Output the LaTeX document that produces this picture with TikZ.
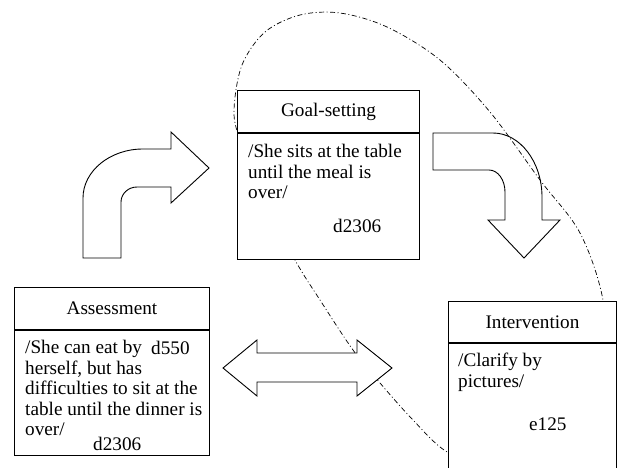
\documentclass[tikz,border=0pt]{standalone}
\usepackage{fontspec}
\setmainfont{Liberation Serif}
\begin{document}
\begin{tikzpicture}[x=1pt, y=-1pt,
  font=\fontsize{19.2}{20.6}\selectfont,
  boxhead/.style={draw, fill=white, line width=1pt, anchor=north west, inner sep=0pt, minimum height=42},
  boxbody/.style={draw, fill=white, line width=1pt, anchor=north west, inner sep=0pt},
  boxtext/.style={anchor=north west, inner sep=0pt, align=left},
  codetext/.style={anchor=base west, inner sep=0pt},
  bigarrow/.style={draw, fill=white, line width=0.9pt, line join=miter},
  cycleline/.style={line width=0.7pt, dash pattern=on 5pt off 2.5pt on 1pt off 2.5pt}]
\useasboundingbox (0,0) rectangle (618,468);
\clip (0,0) rectangle (618,468);

% Arrow from goal-setting to intervention (under the loop)
\draw[bigarrow] (433,133) -- (493,133) .. controls (520,133) and (542,162) .. (542,197) -- (542,220) -- (560,220) -- (524,258) -- (488,220) -- (505,220) -- (505,192) .. controls (505,180) and (498,170) .. (489,170) -- (433,170) -- cycle;

% Draw the dash-dot loop
\draw[cycleline] plot[smooth cycle, tension=0.55] coordinates {(234,110) (242,65) (265,32) (300,15) (340,13) (387,27) (440,60) (490,112) (540,180) (580,233) (603,300) (608,380) (570,450) (500,475) (447,452) (413,420) (380,383) (353,350) (320,300) (295,260) (262,195) (240,140)};

% Goal-setting box
\node[boxhead, minimum width=182] (goalhead) at (237,90) {Goal-setting};
\node[boxbody, minimum width=182, minimum height=126] (goalbody) at (goalhead.south west) {};
\node[boxtext] (goaltext) at (248,144) {/She sits at the table\\until the meal is\\over/};
\node[codetext] (goalcode) at (333,232) {d2306};

% Assessment box
\node[boxhead, minimum width=195] (assesshead) at (14,287) {Assessment};
\node[boxbody, minimum width=195, minimum height=125] (assessbody) at (assesshead.south west) {};
\node[boxtext] (assesstext) at (25,340) {/She can eat by\\herself, but has\\difficulties to sit at the\\table until the dinner is\\over/};
\node[codetext] (assesscodea) at (151,354) {d550};
\node[codetext] (assesscodeb) at (93,450) {d2306};

% Intervention box
\node[boxhead, minimum width=168, minimum height=41] (interhead) at (448,301) {Intervention};
\node[boxbody, minimum width=168, minimum height=140] (interbody) at (interhead.south west) {};
\node[boxtext] (intertext) at (458,353) {/Clarify by\\pictures/};
\node[codetext] (intercode) at (529,430) {e125};

% Other block arrows
\draw[bigarrow] (83,258) -- (83,198) .. controls (83,171) and (110,149) .. (143,149) -- (171,149) -- (171,132) -- (209,168) -- (171,203) -- (171,187) -- (137,187) .. controls (128,187) and (121,194) .. (121,202) -- (121,258) -- cycle;
\draw[bigarrow] (223,368) -- (257,340) -- (257,353) -- (357,353) -- (357,340) -- (392,368) -- (357,396) -- (357,382) -- (257,382) -- (257,396) -- cycle;
\end{tikzpicture}
\end{document}
